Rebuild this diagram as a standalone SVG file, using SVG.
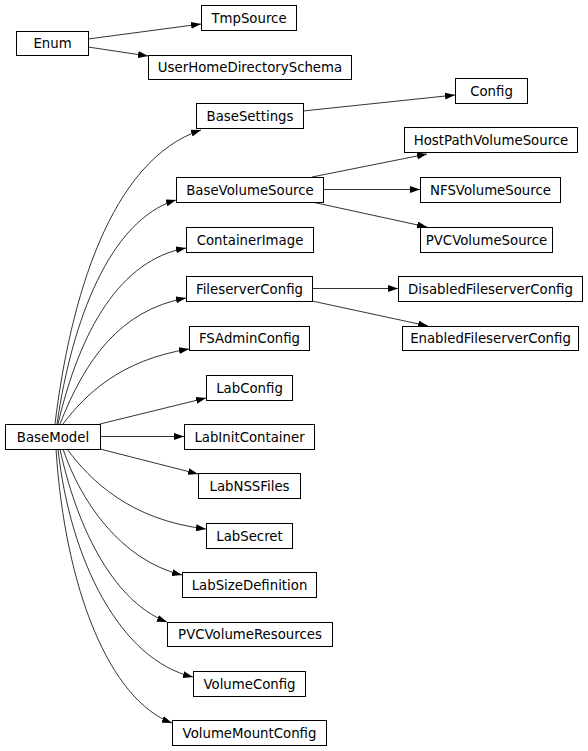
<svg xmlns="http://www.w3.org/2000/svg" width="588" height="751" viewBox="0 0 588 751">
<style>
.n rect{fill:#fff;stroke:#000;stroke-width:1}
.n text{font-family:"DejaVu Sans",sans-serif;font-size:13.3px;text-anchor:middle;fill:#000}
#edges path{fill:none;stroke:#000;stroke-width:0.8;marker-end:url(#ah)}
</style>
<defs>
<marker id="ah" markerUnits="userSpaceOnUse" markerWidth="10" markerHeight="7" refX="10" refY="3.5" orient="auto">
<path d="M0,0 L10,3.5 L0,7 z" fill="#000"/>
</marker>
</defs>
<rect width="588" height="751" fill="#fff"/>
<g id="edges">
<path d="M88,39 L201,24"/>
<path d="M88,47 L148,56"/>
<path d="M303,111 L455,95"/>
<path d="M312,177 L427,154"/>
<path d="M323,189.5 L420,189.5"/>
<path d="M312,202 L427,227"/>
<path d="M312,288.5 L398,288.5"/>
<path d="M312,301 L428,326"/>
<path d="M100,424 L206,398"/>
<path d="M100,436.5 L184,436.5"/>
<path d="M100,449 L198,474"/>
<path d="M55,424 C70,300 110,160 201,130"/>
<path d="M57,424 C72,320 110,220 176,200"/>
<path d="M58,424 C80,330 120,260 186,248"/>
<path d="M60,424 C85,360 120,310 186,298"/>
<path d="M63,424 C85,395 120,360 189,349"/>
<path d="M67,449 C90,480 130,520 206,529"/>
<path d="M63,449 C80,500 120,560 182,575"/>
<path d="M60,449 C75,520 110,600 167,622"/>
<path d="M58,449 C70,560 120,660 193,677"/>
<path d="M56,449 C65,590 110,700 172,723"/>
</g>
<g id="Enum" class="n"><rect x="16.5" y="31.5" width="72" height="24"/><text x="52.5" y="48">Enum</text></g>
<g id="TmpSource" class="n"><rect x="201.5" y="5.5" width="95" height="25"/><text x="249" y="22.5">TmpSource</text></g>
<g id="UserHomeDirectorySchema" class="n"><rect x="148.5" y="55.5" width="203" height="24"/><text x="250" y="72">UserHomeDirectorySchema</text></g>
<g id="BaseSettings" class="n"><rect x="196.5" y="103.5" width="107" height="25"/><text x="250" y="120.5">BaseSettings</text></g>
<g id="Config" class="n"><rect x="455.5" y="78.5" width="72" height="25"/><text x="491.5" y="95.5">Config</text></g>
<g id="HostPathVolumeSource" class="n"><rect x="404.5" y="127.5" width="173" height="25"/><text x="491" y="144.5">HostPathVolumeSource</text></g>
<g id="BaseVolumeSource" class="n"><rect x="176.5" y="177.5" width="147" height="25"/><text x="250" y="194.5">BaseVolumeSource</text></g>
<g id="NFSVolumeSource" class="n"><rect x="420.5" y="177.5" width="140" height="25"/><text x="490.5" y="194.5">NFSVolumeSource</text></g>
<g id="PVCVolumeSource" class="n"><rect x="420.5" y="227.5" width="132" height="25"/><text x="486.5" y="244.5">PVCVolumeSource</text></g>
<g id="ContainerImage" class="n"><rect x="186.5" y="227.5" width="127" height="25"/><text x="250" y="244.5">ContainerImage</text></g>
<g id="FileserverConfig" class="n"><rect x="186.5" y="276.5" width="126" height="25"/><text x="249.5" y="293.5">FileserverConfig</text></g>
<g id="DisabledFileserverConfig" class="n"><rect x="398.5" y="276.5" width="184" height="25"/><text x="490.5" y="293.5">DisabledFileserverConfig</text></g>
<g id="EnabledFileserverConfig" class="n"><rect x="402.5" y="326.5" width="176" height="24"/><text x="490.5" y="343">EnabledFileserverConfig</text></g>
<g id="FSAdminConfig" class="n"><rect x="189.5" y="326.5" width="120" height="24"/><text x="249.5" y="343">FSAdminConfig</text></g>
<g id="LabConfig" class="n"><rect x="206.5" y="375.5" width="86" height="25"/><text x="249.5" y="392.5">LabConfig</text></g>
<g id="BaseModel" class="n"><rect x="5.5" y="424.5" width="95" height="25"/><text x="53" y="441.5">BaseModel</text></g>
<g id="LabInitContainer" class="n"><rect x="184.5" y="424.5" width="130" height="25"/><text x="249.5" y="441.5">LabInitContainer</text></g>
<g id="LabNSSFiles" class="n"><rect x="198.5" y="473.5" width="102" height="25"/><text x="249.5" y="490.5">LabNSSFiles</text></g>
<g id="LabSecret" class="n"><rect x="206.5" y="523.5" width="86" height="25"/><text x="249.5" y="540.5">LabSecret</text></g>
<g id="LabSizeDefinition" class="n"><rect x="182.5" y="572.5" width="134" height="25"/><text x="249.5" y="589.5">LabSizeDefinition</text></g>
<g id="PVCVolumeResources" class="n"><rect x="167.5" y="622.5" width="165" height="24"/><text x="250" y="639">PVCVolumeResources</text></g>
<g id="VolumeConfig" class="n"><rect x="193.5" y="671.5" width="112" height="25"/><text x="249.5" y="688.5">VolumeConfig</text></g>
<g id="VolumeMountConfig" class="n"><rect x="172.5" y="720.5" width="154" height="25"/><text x="249.5" y="737.5">VolumeMountConfig</text></g>
</svg>
